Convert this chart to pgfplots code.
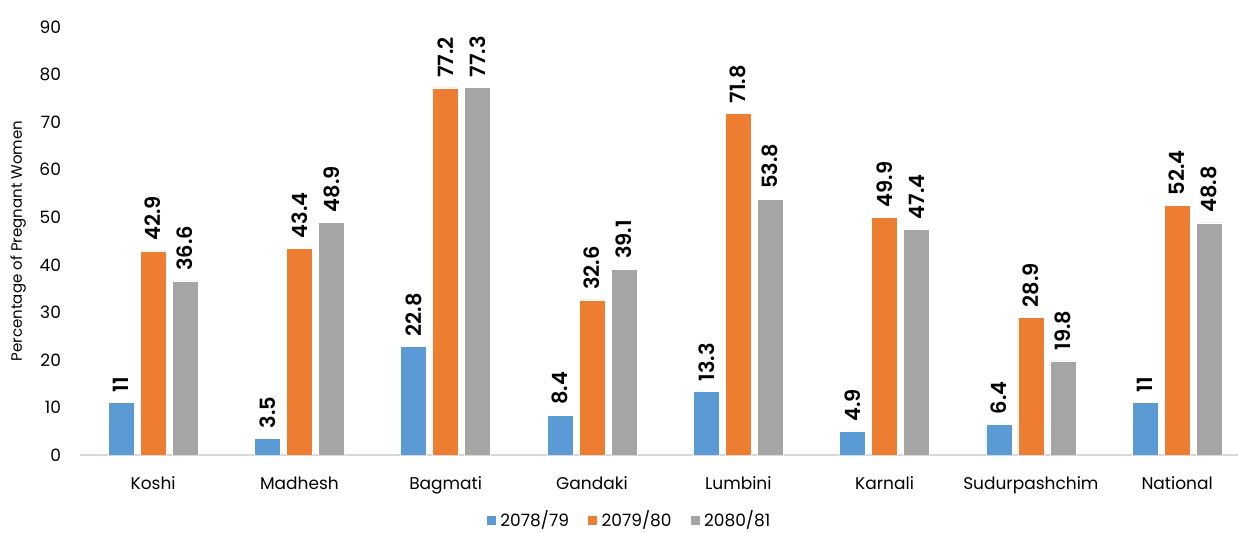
\documentclass[border=0pt]{standalone}
\usepackage{fontspec}
\setmainfont{Poppins}
\newfontfamily\semibold{Poppins SemiBold}
\usepackage{pgfplots}
\pgfplotsset{compat=1.18}
\definecolor{cblue}{HTML}{5B9BD5}
\definecolor{corange}{HTML}{ED7D31}
\definecolor{cgray}{HTML}{A5A5A5}
\definecolor{axisgray}{HTML}{D9D9D9}
\pgfkeys{/pgf/number format/assume math mode=true}
\begin{document}
\begin{tikzpicture}
\begin{axis}[
  scale only axis,
  width=579pt, height=214pt,
  /pgf/number format/assume math mode=true,
  ybar,
  bar width=13pt,
  xmin=-0.5, xmax=7.416,
  ymin=0, ymax=90,
  ytick={0,10,...,90},
  xtick={0,...,7},
  xticklabels={Koshi,Madhesh,Bagmati,Gandaki,Lumbini,Karnali,Sudurpashchim,National},
  axis x line*=bottom,
  axis y line*=left,
  x axis line style={draw=axisgray, line width=1pt, -},
  y axis line style={draw=none},
  tick style={draw=none},
  ticklabel style={font=\fontsize{8.5}{10}\selectfont},
  yticklabel style={xshift=-6pt},
  xticklabel style={yshift=-3pt},
  ylabel={Percentage of Pregnant Women},
  ylabel style={at={(axis description cs:-0.0535,0.5)}, anchor=center, font=\fontsize{7.5}{9}\selectfont},
  nodes near coords={\pgfmathprintnumber{\pgfplotspointmeta}},
  every node near coord/.append style={rotate=90, anchor=west, font=\semibold\fontsize{10.5}{12}\selectfont, inner sep=5pt},
  legend columns=3,
  legend style={draw=none, at={(axis description cs:0.475,-0.152)}, anchor=center, font=\fontsize{8.5}{10}\selectfont, /tikz/every even column/.append style={column sep=7pt}},
  legend image code/.code={\fill[#1] (0pt,-2.5pt) rectangle (5pt,2.5pt);},
]
\addplot[fill=cblue, draw=white, line width=0.3pt, bar shift=-16pt] coordinates {(0,11) (1,3.5) (2,22.8) (3,8.4) (4,13.3) (5,4.9) (6,6.4) (7,11)};
\addplot[fill=corange, draw=white, line width=0.3pt, bar shift=0pt] coordinates {(0,42.9) (1,43.4) (2,77.2) (3,32.6) (4,71.8) (5,49.9) (6,28.9) (7,52.4)};
\addplot[fill=cgray, draw=white, line width=0.3pt, bar shift=16pt] coordinates {(0,36.6) (1,48.9) (2,77.3) (3,39.1) (4,53.8) (5,47.4) (6,19.8) (7,48.8)};
\legend{2078/79,2079/80,2080/81}
\end{axis}
\pgfresetboundingbox
\path (-40pt,-39pt) rectangle (579pt,227.5pt);
\end{tikzpicture}
\end{document}
